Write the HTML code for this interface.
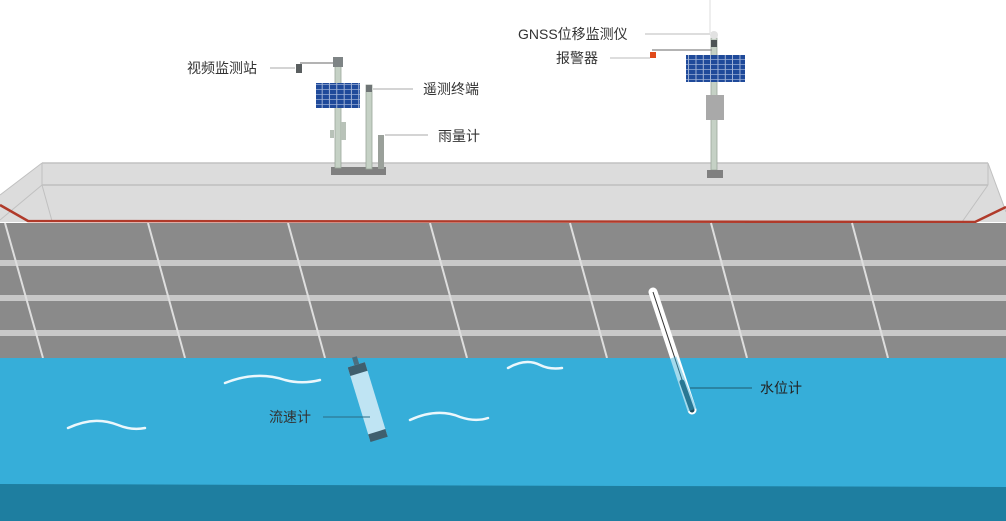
<!DOCTYPE html>
<html><head><meta charset="utf-8"><style>
html,body{margin:0;padding:0;background:#fff;}
svg{display:block}
text{font-family:"Liberation Sans","Noto Sans CJK SC",sans-serif;font-size:14px;fill:#333;}
</style></head><body>
<svg width="1006" height="521" viewBox="0 0 1006 521" xmlns="http://www.w3.org/2000/svg">
<defs>
<pattern id="cells" x="0" y="0" width="7.33" height="5" patternUnits="userSpaceOnUse">
<rect width="7.33" height="5" fill="#1f4a9a"/>
<rect x="6.6" width="0.8" height="5" fill="#cfd8ea"/>
<rect y="4.3" width="7.33" height="0.7" fill="#9fb2d8"/>
</pattern>
</defs>
<!-- slab -->
<polygon points="42,163 988,163 1006,210 1006,222 0,222 0,195" fill="#dcdcdc"/>
<line x1="42" y1="163" x2="988" y2="163" stroke="#c2c2c2" stroke-width="1.5"/>
<line x1="42" y1="185" x2="988" y2="185" stroke="#b8b8b8" stroke-width="1.2"/>
<line x1="42" y1="163" x2="42" y2="185" stroke="#c0c0c0"/>
<line x1="988" y1="163" x2="988" y2="185" stroke="#c0c0c0"/>
<line x1="42" y1="163" x2="0" y2="195" stroke="#c0c0c0"/>
<line x1="42" y1="185" x2="0" y2="220" stroke="#c0c0c0"/>
<line x1="42" y1="185" x2="52" y2="221" stroke="#c0c0c0"/>
<line x1="988" y1="163" x2="1006" y2="212" stroke="#c0c0c0"/>
<line x1="988" y1="185" x2="962" y2="222" stroke="#c0c0c0"/>
<polyline points="0,205 28,221 975,222 1006,207" fill="none" stroke="#b03a2a" stroke-width="2.5"/>
<!-- wall -->
<rect x="0" y="223" width="1006" height="136" fill="#8a8a8a"/>
<rect x="0" y="260" width="1006" height="6" fill="#c8c8c8"/>
<rect x="0" y="295" width="1006" height="6" fill="#c8c8c8"/>
<rect x="0" y="330" width="1006" height="6" fill="#c8c8c8"/>
<g stroke="#dedede" stroke-width="2">
<line x1="5" y1="223" x2="43" y2="358"/>
<line x1="148" y1="223" x2="185" y2="358"/>
<line x1="288" y1="223" x2="325" y2="358"/>
<line x1="430" y1="223" x2="467" y2="358"/>
<line x1="570" y1="223" x2="607" y2="358"/>
<line x1="711" y1="223" x2="747" y2="358"/>
<line x1="852" y1="223" x2="888" y2="358"/>
</g>
<!-- water -->
<rect x="0" y="358" width="1006" height="163" fill="#36aed9"/>
<polygon points="0,484 300,485 1006,487 1006,521 0,521" fill="#1e7ea0"/>
<g fill="none" stroke="#fff" stroke-width="2.5" stroke-linecap="round" opacity="0.9">
<path d="M68,428 C90,418 105,420 118,425 C130,430 140,429 145,428"/>
<path d="M225,383 C250,373 270,375 285,380 C300,384 312,382 320,380"/>
<path d="M410,420 C432,410 448,412 460,417 C472,421 482,420 488,418"/>
<path d="M508,368 C522,360 532,361 540,365 C548,369 555,369 562,368"/>
</g>
<!-- flowmeter -->
<g transform="translate(368,403) rotate(-17)">
<rect x="-2" y="-48" width="5" height="10" fill="#4a6f80"/>
<rect x="-9" y="-40" width="18" height="76" fill="#bfe4f3"/>
<rect x="-9" y="-40" width="18" height="9" fill="#3f5f6e"/>
<rect x="-9" y="30" width="18" height="8" fill="#3f5f6e"/>
</g>
<line x1="323" y1="417" x2="370" y2="417" stroke="#2a6c85" stroke-width="1"/>
<text x="269" y="422">流速计</text>
<!-- water gauge -->
<line x1="653" y1="292" x2="692" y2="410" stroke="#fff" stroke-width="9" stroke-linecap="round"/>
<line x1="653" y1="292" x2="692" y2="410" stroke="#333" stroke-width="1"/>
<line x1="682" y1="382" x2="692" y2="410" stroke="#1d4a5a" stroke-width="5" stroke-linecap="round"/>
<line x1="672" y1="358" x2="692" y2="410" stroke="#36aed9" stroke-width="9" opacity="0.45"/>
<line x1="690" y1="388" x2="752" y2="388" stroke="#1d5a70" stroke-width="1"/>
<text x="760" y="393" style="fill:#222">水位计</text>
<!-- left station -->
<rect x="331" y="167" width="55" height="8" fill="#808080"/>
<rect x="335" y="62" width="6" height="106" fill="#c5d1c5" stroke="#9aa59a" stroke-width="0.8"/>
<rect x="333" y="57" width="10" height="10" fill="#7e8485"/>
<line x1="300" y1="63" x2="333" y2="63" stroke="#9a9a9a" stroke-width="1.5"/>
<rect x="296" y="64" width="6" height="9" fill="#5a5f60"/>
<rect x="341" y="122" width="5" height="18" fill="#b8c2b8"/>
<rect x="330" y="130" width="4" height="8" fill="#b8c2b8"/>
<rect x="316" y="83" width="44" height="25" fill="url(#cells)"/>
<rect x="366" y="85" width="6" height="84" fill="#c5d1c5" stroke="#9aa59a" stroke-width="0.8"/>
<rect x="366" y="85" width="6" height="7" fill="#6e7475"/>
<rect x="378" y="135" width="6" height="34" fill="#9aa09a"/>
<line x1="270" y1="68" x2="295" y2="68" stroke="#aaa"/>
<text x="187" y="73">视频监测站</text>
<line x1="373" y1="89" x2="413" y2="89" stroke="#aaa"/>
<text x="423" y="94">遥测终端</text>
<line x1="385" y1="135" x2="428" y2="135" stroke="#aaa"/>
<text x="438" y="141">雨量计</text>
<!-- right station -->
<line x1="710" y1="0" x2="710" y2="33" stroke="#ddd"/>
<rect x="711" y="38" width="6" height="132" fill="#c5d1c5" stroke="#9aa59a" stroke-width="0.8"/>
<circle cx="714" cy="35" r="4" fill="#e2e2e2"/>
<rect x="711" y="40" width="6" height="7" fill="#4e5455"/>
<rect x="707" y="170" width="16" height="8" fill="#808080"/>
<line x1="652" y1="50" x2="712" y2="50" stroke="#9a9a9a" stroke-width="1.5"/>
<rect x="650" y="52" width="6" height="6" fill="#e04a1a"/>
<rect x="686" y="55" width="59" height="27" fill="url(#cells)"/>
<rect x="706" y="95" width="18" height="25" fill="#a9a9a9"/>
<line x1="645" y1="34" x2="710" y2="34" stroke="#bbb"/>
<text x="518" y="39">GNSS位移监测仪</text>
<line x1="610" y1="58" x2="650" y2="58" stroke="#bbb"/>
<text x="556" y="63">报警器</text>
</svg>
</body></html>
